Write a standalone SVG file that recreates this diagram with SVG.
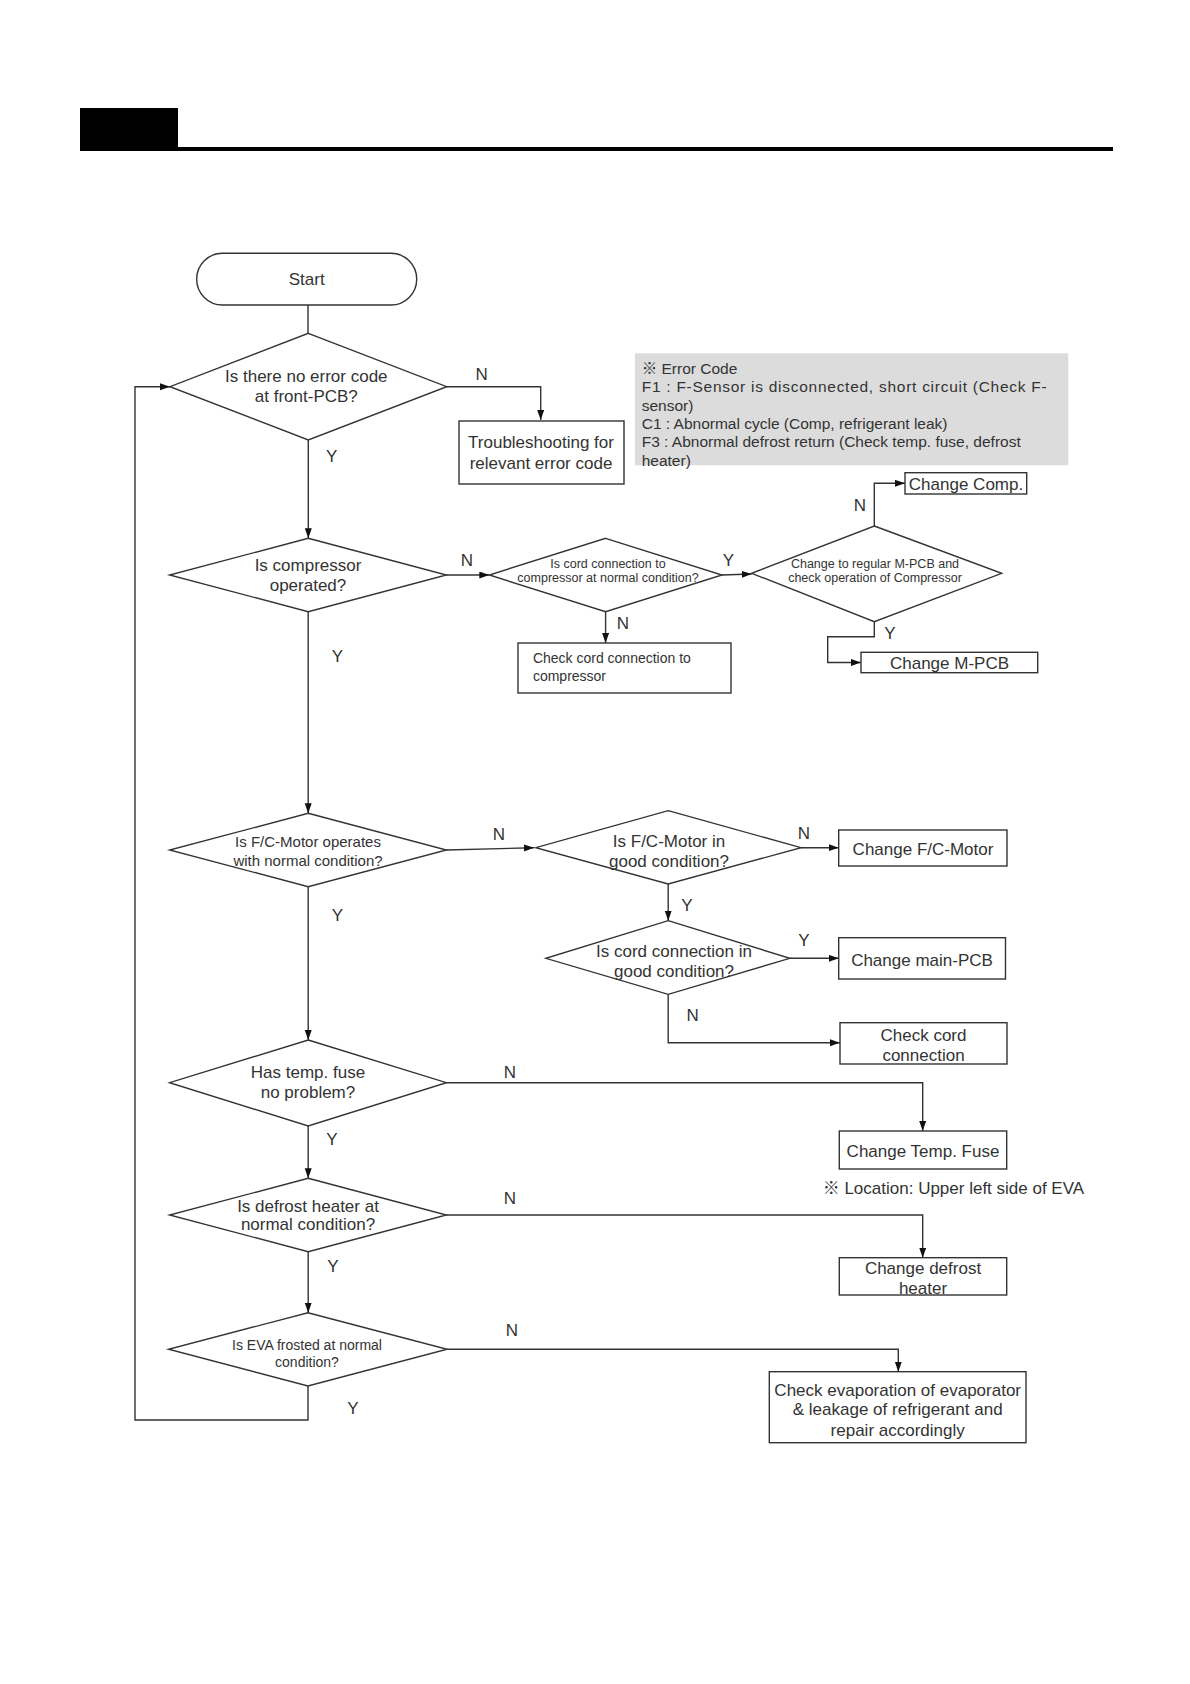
<svg xmlns="http://www.w3.org/2000/svg" width="1190" height="1684" viewBox="0 0 1190 1684">
<style>
.ln{stroke:#333;stroke-width:1.4;fill:none}
.sh{fill:#fff;stroke:#333;stroke-width:1.4}
.t{font-family:"Liberation Sans","Noto Sans CJK KR",sans-serif;fill:#333;text-anchor:middle;dominant-baseline:central}
.s17{font-size:17px}
.s15{font-size:15px}
.s14{font-size:14px}
.s12{font-size:12.5px}
.l{text-anchor:start}
</style>
<defs>
<marker id="ar" markerUnits="userSpaceOnUse" markerWidth="11" markerHeight="8" refX="10" refY="3.5" orient="auto">
<path d="M0,0 L10,3.5 L0,7 z" fill="#111"/>
</marker>
</defs>
<rect width="1190" height="1684" fill="#fff"/>
<g id="header">
<rect x="80" y="108" width="98" height="43" fill="#000"/>
<rect x="178" y="147" width="935" height="4" fill="#000"/>
</g>
<g id="connectors">
<path class="ln" d="M308,305 V333.3"/>
<path class="ln" d="M446.7,386.7 H540.7 V420" marker-end="url(#ar)"/>
<path class="ln" d="M308.3,440 V538.3" marker-end="url(#ar)"/>
<path class="ln" d="M446.4,575 H489.3" marker-end="url(#ar)"/>
<path class="ln" d="M605.6,611.7 V643" marker-end="url(#ar)"/>
<path class="ln" d="M722,575 L751.7,574" marker-end="url(#ar)"/>
<path class="ln" d="M874.3,526 V483.3 H905" marker-end="url(#ar)"/>
<path class="ln" d="M874.3,621.7 V636.7 H827.7 V662.5 H861" marker-end="url(#ar)"/>
<path class="ln" d="M308.2,611.7 V813.3" marker-end="url(#ar)"/>
<path class="ln" d="M446.4,850 L534,847.7" marker-end="url(#ar)"/>
<path class="ln" d="M801,847.7 H838.7" marker-end="url(#ar)"/>
<path class="ln" d="M668.2,884 V920.7" marker-end="url(#ar)"/>
<path class="ln" d="M789.8,958.3 H838.7" marker-end="url(#ar)"/>
<path class="ln" d="M668.2,994.3 V1042.7 H839.9" marker-end="url(#ar)"/>
<path class="ln" d="M308.2,886.7 V1040" marker-end="url(#ar)"/>
<path class="ln" d="M446.4,1082.7 H922.7 V1131" marker-end="url(#ar)"/>
<path class="ln" d="M308.2,1126 V1178.3" marker-end="url(#ar)"/>
<path class="ln" d="M446.4,1215 H922.7 V1257.7" marker-end="url(#ar)"/>
<path class="ln" d="M308.2,1251.7 V1312.7" marker-end="url(#ar)"/>
<path class="ln" d="M447.1,1349.3 H898.3 V1371.7" marker-end="url(#ar)"/>
<path class="ln" d="M308,1386 V1420 H135 V386.7 H170" marker-end="url(#ar)"/>
<g class="t s17">
<text x="481.7" y="374">N</text>
<text x="331.7" y="456.7">Y</text>
<text x="466.8" y="560">N</text>
<text x="623" y="623.3">N</text>
<text x="728.3" y="560">Y</text>
<text x="860" y="505">N</text>
<text x="890" y="633.3">Y</text>
<text x="337.5" y="656.7">Y</text>
<text x="499" y="834">N</text>
<text x="804" y="833.3">N</text>
<text x="687" y="905">Y</text>
<text x="804" y="940">Y</text>
<text x="692.7" y="1015">N</text>
<text x="337.5" y="915">Y</text>
<text x="510" y="1072.7">N</text>
<text x="332" y="1139.3">Y</text>
<text x="510" y="1198.3">N</text>
<text x="333" y="1266">Y</text>
<text x="511.8" y="1330.7">N</text>
<text x="352.9" y="1408.3">Y</text>
</g>
</g>
<g id="start">
<rect class="sh" x="196.7" y="253.3" width="220" height="51.7" rx="25.8"/>
<text class="t s17" x="306.7" y="279.5">Start</text>
</g>
<g id="d1">
<polygon class="sh" points="308.3,333.3 446.7,386.7 308.3,440 170,386.7"/>
<text class="t s17" x="306.3" y="376">Is there no error code</text>
<text class="t s17" x="306.3" y="396.7">at front-PCB?</text>
</g>
<g id="trouble">
<rect class="sh" x="459" y="421" width="165" height="63"/>
<text class="t s17" x="541" y="442.7">Troubleshooting for</text>
<text class="t s17" x="541" y="463.3">relevant error code</text>
</g>
<g id="errnote">
<rect x="635" y="353.3" width="433.3" height="112" fill="#dcdcdc"/>
<g class="t s15 l" style="font-size:15.5px">
<text x="641.7" y="368.3">※ Error Code</text>
<text x="641.7" y="386.7" textLength="405" lengthAdjust="spacing">F1 : F-Sensor is disconnected, short circuit (Check F-</text>
<text x="641.7" y="405">sensor)</text>
<text x="641.7" y="423.3">C1 : Abnormal cycle (Comp, refrigerant leak)</text>
<text x="641.7" y="441.7">F3 : Abnormal defrost return (Check temp. fuse, defrost</text>
<text x="641.7" y="460">heater)</text>
</g>
</g>
<g id="d2">
<polygon class="sh" points="308.2,538.3 446.4,575 308.2,611.7 169.6,575"/>
<text class="t s17" x="308" y="565">Is compressor</text>
<text class="t s17" x="308" y="585">operated?</text>
</g>
<g id="d3">
<polygon class="sh" points="605.6,538.3 722,575 605.6,611.7 489.3,575"/>
<text class="t s12" x="608" y="564">Is cord connection to</text>
<text class="t s12" x="608" y="578.3">compressor at normal condition?</text>
</g>
<g id="checkcord1">
<rect class="sh" x="518" y="643" width="213" height="50"/>
<text class="t s14 l" x="532.9" y="658.3">Check cord connection to</text>
<text class="t s14 l" x="532.9" y="676">compressor</text>
</g>
<g id="d4">
<polygon class="sh" points="874.3,526 1001.7,573.3 874.3,621.7 751.7,573.3"/>
<text class="t s12" x="875" y="564">Change to regular M-PCB and</text>
<text class="t s12" x="875" y="578.3">check operation of Compressor</text>
</g>
<g id="changecomp">
<rect class="sh" x="905" y="472.7" width="121.7" height="21.3"/>
<text class="t s17" x="966" y="484">Change Comp.</text>
</g>
<g id="changempcb">
<rect class="sh" x="861" y="652.3" width="176.7" height="20.4"/>
<text class="t s17" x="949.5" y="663">Change M-PCB</text>
</g>
<g id="d5">
<polygon class="sh" points="308.2,813.3 446.4,850 308.2,886.7 169.6,850"/>
<text class="t s15" x="308" y="841.7">Is F/C-Motor operates</text>
<text class="t s15" x="308" y="860">with normal condition?</text>
</g>
<g id="d6">
<polygon class="sh" points="668.2,810.7 801,847.7 668.2,884 535.8,847.7"/>
<text class="t s17" x="669" y="841.7">Is F/C-Motor in</text>
<text class="t s17" x="669" y="861.7">good condition?</text>
</g>
<g id="changefc">
<rect class="sh" x="838.7" y="830" width="168.3" height="36"/>
<text class="t s17" x="923" y="849.3">Change F/C-Motor</text>
</g>
<g id="d7">
<polygon class="sh" points="668.2,920.7 789.8,958.3 668.2,994.3 545.9,958.3"/>
<text class="t s17" x="674" y="951.7">Is cord connection in</text>
<text class="t s17" x="674" y="971.7">good condition?</text>
</g>
<g id="changemain">
<rect class="sh" x="838.7" y="937.7" width="166.8" height="41.3"/>
<text class="t s17" x="922" y="960">Change main-PCB</text>
</g>
<g id="checkcord2">
<rect class="sh" x="840" y="1022.7" width="167" height="41.3"/>
<text class="t s17" x="923.5" y="1035">Check cord</text>
<text class="t s17" x="923.5" y="1055">connection</text>
</g>
<g id="d8">
<polygon class="sh" points="308.2,1040 446.4,1082.7 308.2,1126 169.6,1082.7"/>
<text class="t s17" x="308" y="1072.7">Has temp. fuse</text>
<text class="t s17" x="308" y="1092.7">no problem?</text>
</g>
<g id="changefuse">
<rect class="sh" x="839.3" y="1131" width="167.4" height="38"/>
<text class="t s17" x="923" y="1151.7">Change Temp. Fuse</text>
</g>
<text id="location" class="t s17 l" x="822.7" y="1188.3">※ Location: Upper left side of EVA</text>
<g id="d9">
<polygon class="sh" points="308.2,1178.3 446.4,1215 308.2,1251.7 169.6,1215"/>
<text class="t s17" x="308" y="1206.7">Is defrost heater at</text>
<text class="t s17" x="308" y="1224.3">normal condition?</text>
</g>
<g id="changeheater">
<rect class="sh" x="839.3" y="1257.7" width="167.4" height="37.3"/>
<text class="t s17" x="923" y="1268.3">Change defrost</text>
<text class="t s17" x="923" y="1288.3">heater</text>
</g>
<g id="d10">
<polygon class="sh" points="307.9,1312.7 447.1,1349.3 307.9,1386 168.6,1349.3"/>
<text class="t s14" x="307" y="1345">Is EVA frosted at normal</text>
<text class="t s14" x="307" y="1361.7">condition?</text>
</g>
<g id="checkevap">
<rect class="sh" x="769.3" y="1371.7" width="256.7" height="71"/>
<text class="t s17" x="897.7" y="1390">Check evaporation of evaporator</text>
<text class="t s17" x="897.7" y="1409.3">&amp; leakage of refrigerant and</text>
<text class="t s17" x="897.7" y="1430">repair accordingly</text>
</g>
</svg>
